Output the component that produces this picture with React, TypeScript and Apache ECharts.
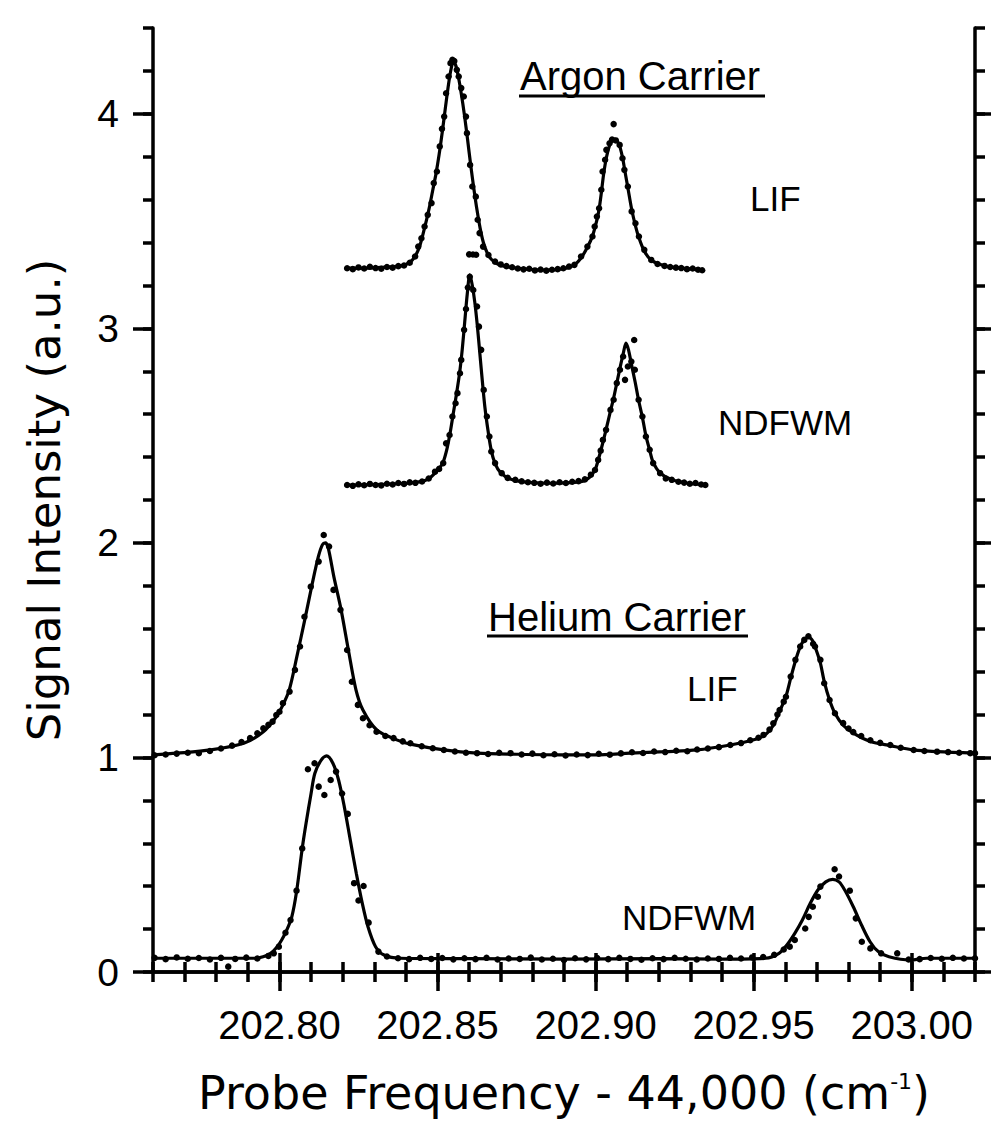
import React, { useEffect, useRef } from "react";
import * as echarts from "echarts";

// ---- axis ticks ----
const xMajorTicks = [202.8, 202.85, 202.9, 202.95, 203.0];
const yMajorTicks = [0, 1, 2, 3, 4];
const X_MIN = 202.76;
const X_MAX = 203.02;
const Y_MIN = 0;
const Y_MAX = 4.4;

// ---- Argon carrier, LIF ----
const argonLifFit = [
  [202.8214, 3.281], [202.826, 3.281], [202.83, 3.282], [202.834, 3.285], [202.837, 3.289], [202.84, 3.298],
  [202.842, 3.318], [202.8435, 3.352], [202.8445, 3.39], [202.8455, 3.445], [202.8465, 3.505], [202.8475, 3.57],
  [202.8485, 3.645], [202.8495, 3.72], [202.8505, 3.81], [202.8515, 3.915], [202.8525, 4.03], [202.8535, 4.14],
  [202.8543, 4.21], [202.855, 4.242], [202.8557, 4.228], [202.8565, 4.18], [202.8575, 4.095], [202.8585, 3.995],
  [202.8595, 3.88], [202.8605, 3.76], [202.8615, 3.65], [202.8625, 3.55], [202.8635, 3.465], [202.8645, 3.4],
  [202.8657, 3.352], [202.867, 3.322], [202.869, 3.3], [202.872, 3.287], [202.878, 3.276], [202.884, 3.272],
  [202.89, 3.278], [202.8933, 3.296], [202.8954, 3.328], [202.8974, 3.378], [202.899, 3.43], [202.9004, 3.505],
  [202.9011, 3.555], [202.9018, 3.63], [202.9025, 3.715], [202.9034, 3.795], [202.9044, 3.852], [202.9053, 3.876],
  [202.9061, 3.882], [202.907, 3.87], [202.9078, 3.84], [202.9086, 3.79], [202.9093, 3.73], [202.9102, 3.655],
  [202.9114, 3.555], [202.9126, 3.478], [202.9137, 3.422], [202.9154, 3.36], [202.9176, 3.318], [202.9218, 3.292],
  [202.9271, 3.281], [202.9337, 3.274],
];
const argonLifDots = [
  [202.8214, 3.28], [202.8232, 3.276], [202.825, 3.284], [202.8268, 3.279], [202.8286, 3.287], [202.8304, 3.281],
  [202.8322, 3.278], [202.834, 3.286], [202.8358, 3.283], [202.8376, 3.29], [202.8394, 3.293], [202.8412, 3.306],
  [202.8429, 3.335], [202.8439, 3.381], [202.8449, 3.42], [202.8459, 3.475], [202.8469, 3.529], [202.8481, 3.584],
  [202.8488, 3.677], [202.8498, 3.731], [202.8507, 3.848], [202.8514, 3.93], [202.8521, 3.987], [202.8527, 4.096],
  [202.8535, 4.174], [202.8541, 4.236], [202.8547, 4.252], [202.8553, 4.246], [202.8561, 4.205], [202.8567, 4.174],
  [202.8575, 4.12], [202.8583, 4.081], [202.859, 3.987], [202.8593, 3.91], [202.8603, 3.762], [202.861, 3.661],
  [202.8621, 3.614], [202.8627, 3.506], [202.8633, 3.444], [202.8644, 3.381], [202.8661, 3.342], [202.8682, 3.311],
  [202.87, 3.298], [202.8718, 3.29], [202.8736, 3.285], [202.8754, 3.279], [202.8772, 3.275], [202.879, 3.278],
  [202.8808, 3.27], [202.8826, 3.274], [202.8844, 3.269], [202.8862, 3.273], [202.888, 3.276], [202.8898, 3.28],
  [202.8916, 3.288], [202.8933, 3.296], [202.8954, 3.335], [202.8974, 3.381], [202.899, 3.428], [202.8997, 3.475],
  [202.9004, 3.521], [202.9011, 3.56], [202.9018, 3.646], [202.9022, 3.731], [202.903, 3.786], [202.9034, 3.832],
  [202.9044, 3.863], [202.9052, 3.88], [202.9057, 3.952], [202.9064, 3.876], [202.9076, 3.855], [202.9085, 3.793],
  [202.9091, 3.739], [202.9102, 3.661], [202.9114, 3.545], [202.9126, 3.49], [202.9137, 3.428], [202.9154, 3.366],
  [202.9176, 3.319], [202.9196, 3.3], [202.9218, 3.291], [202.9236, 3.286], [202.9254, 3.283], [202.9271, 3.281],
  [202.9289, 3.276], [202.9307, 3.279], [202.9324, 3.273], [202.9337, 3.271],
  [202.86, 3.345], [202.8612, 3.344], [202.8622, 3.343],
];

// ---- Argon carrier, NDFWM ----
const argonNdfwmFit = [
  [202.8214, 2.27], [202.83, 2.272], [202.84, 2.278], [202.8451, 2.287], [202.8475, 2.302], [202.8492, 2.325],
  [202.8507, 2.35], [202.8518, 2.378], [202.853, 2.44], [202.854, 2.515], [202.855, 2.605], [202.856, 2.695],
  [202.857, 2.795], [202.8578, 2.9], [202.8586, 3.03], [202.8594, 3.16], [202.8602, 3.249], [202.861, 3.2],
  [202.8618, 3.12], [202.8626, 3.01], [202.8634, 2.88], [202.8642, 2.75], [202.865, 2.63], [202.866, 2.52],
  [202.867, 2.43], [202.8682, 2.37], [202.87, 2.326], [202.873, 2.298], [202.878, 2.283], [202.885, 2.278],
  [202.892, 2.281], [202.896, 2.288], [202.898, 2.305], [202.8998, 2.34], [202.9008, 2.385], [202.9023, 2.468],
  [202.9033, 2.528], [202.9047, 2.615], [202.9057, 2.675], [202.9067, 2.745], [202.9077, 2.815], [202.9087, 2.88],
  [202.9096, 2.931], [202.9104, 2.9], [202.9113, 2.835], [202.9125, 2.75], [202.9136, 2.665], [202.9148, 2.585],
  [202.9159, 2.5], [202.9171, 2.432], [202.9182, 2.375], [202.9204, 2.326], [202.9241, 2.294], [202.9294, 2.278],
  [202.9347, 2.27],
];
const argonNdfwmDots = [
  [202.8214, 2.27], [202.8232, 2.266], [202.825, 2.273], [202.8268, 2.269], [202.8286, 2.275], [202.8304, 2.27],
  [202.8322, 2.268], [202.834, 2.276], [202.8358, 2.272], [202.8376, 2.279], [202.8394, 2.275], [202.8412, 2.282],
  [202.843, 2.28], [202.8451, 2.286], [202.8472, 2.3], [202.8492, 2.332], [202.8505, 2.345], [202.8518, 2.372],
  [202.8527, 2.464], [202.8538, 2.503], [202.8547, 2.589], [202.8557, 2.651], [202.8563, 2.698], [202.8571, 2.791],
  [202.8575, 2.853], [202.8584, 2.993], [202.859, 3.09], [202.8596, 3.19], [202.8602, 3.24], [202.8613, 3.179],
  [202.8625, 3.102], [202.8631, 3.008], [202.8638, 2.9], [202.8646, 2.713], [202.8656, 2.589], [202.8664, 2.496],
  [202.867, 2.426], [202.8682, 2.372], [202.8703, 2.325], [202.8722, 2.303], [202.8746, 2.294], [202.8766, 2.287],
  [202.8786, 2.283], [202.8806, 2.28], [202.8826, 2.276], [202.8846, 2.281], [202.8866, 2.277], [202.8886, 2.283],
  [202.8906, 2.279], [202.8926, 2.285], [202.8946, 2.288], [202.8966, 2.296], [202.8985, 2.318], [202.8998, 2.34],
  [202.9008, 2.387], [202.9016, 2.43], [202.9023, 2.48], [202.9033, 2.527], [202.9047, 2.62], [202.9057, 2.667],
  [202.9067, 2.745], [202.9077, 2.807], [202.9087, 2.869], [202.9093, 2.76], [202.9102, 2.822], [202.9113, 2.845],
  [202.9122, 2.946], [202.9124, 2.807], [202.9136, 2.667], [202.9148, 2.589], [202.9159, 2.496], [202.9171, 2.434],
  [202.9182, 2.372], [202.9204, 2.325], [202.9222, 2.3], [202.9241, 2.294], [202.9262, 2.285], [202.928, 2.281],
  [202.9298, 2.276], [202.9316, 2.279], [202.9334, 2.272], [202.9347, 2.27],
];

// ---- Helium carrier, LIF ----
const heliumLifFit = [
  [202.76, 1.012], [202.7676, 1.02], [202.7782, 1.035], [202.7887, 1.066], [202.7949, 1.12], [202.799, 1.19],
  [202.8011, 1.245], [202.8031, 1.315], [202.8055, 1.47], [202.808, 1.641], [202.8104, 1.812], [202.8123, 1.936],
  [202.8136, 1.992], [202.8145, 2.0], [202.8154, 1.978], [202.8172, 1.843], [202.8195, 1.688], [202.8218, 1.501],
  [202.8242, 1.315], [202.8264, 1.221], [202.8308, 1.128], [202.8371, 1.082], [202.8414, 1.062], [202.852, 1.035],
  [202.8625, 1.02], [202.875, 1.015], [202.8889, 1.012], [202.9, 1.012], [202.911, 1.02], [202.922, 1.027],
  [202.9321, 1.035], [202.9426, 1.058], [202.9489, 1.078], [202.9531, 1.1], [202.9562, 1.15], [202.9582, 1.215],
  [202.9602, 1.285], [202.9617, 1.37], [202.9632, 1.45], [202.9647, 1.515], [202.966, 1.548], [202.9673, 1.56],
  [202.9686, 1.545], [202.9698, 1.5], [202.9711, 1.44], [202.9723, 1.355], [202.974, 1.268], [202.9757, 1.206],
  [202.9783, 1.15], [202.9815, 1.113], [202.9869, 1.074], [202.9932, 1.055], [203.0006, 1.035], [203.008, 1.027],
  [203.02, 1.02],
];
const heliumLifDots = [
  [202.7605, 1.01], [202.764, 1.014], [202.7675, 1.018], [202.771, 1.022], [202.7745, 1.02], [202.778, 1.03],
  [202.7815, 1.042], [202.785, 1.055], [202.788, 1.072], [202.7907, 1.09], [202.793, 1.113], [202.7949, 1.136],
  [202.7965, 1.152], [202.7978, 1.167], [202.799, 1.198], [202.8, 1.213], [202.8011, 1.253], [202.8032, 1.307],
  [202.8049, 1.408], [202.8065, 1.517], [202.8079, 1.656], [202.8099, 1.796], [202.8124, 1.913], [202.814, 2.037],
  [202.8157, 1.983], [202.8171, 1.781], [202.8193, 1.688], [202.8214, 1.501], [202.8229, 1.353], [202.8248, 1.245],
  [202.8264, 1.183], [202.8285, 1.15], [202.8307, 1.12], [202.8335, 1.1], [202.8361, 1.09], [202.839, 1.075],
  [202.8414, 1.066], [202.845, 1.052], [202.8485, 1.043], [202.852, 1.035], [202.8555, 1.028], [202.859, 1.022],
  [202.8625, 1.02], [202.866, 1.016], [202.8695, 1.022], [202.8731, 1.02], [202.8766, 1.014], [202.88, 1.018],
  [202.8835, 1.01], [202.887, 1.015], [202.8905, 1.009], [202.894, 1.014], [202.8975, 1.011], [202.901, 1.017],
  [202.9045, 1.013], [202.908, 1.019], [202.9115, 1.024], [202.915, 1.021], [202.9185, 1.028], [202.922, 1.025],
  [202.9255, 1.031], [202.929, 1.029], [202.9321, 1.037], [202.9355, 1.042], [202.939, 1.048], [202.9426, 1.058],
  [202.946, 1.067], [202.9489, 1.08], [202.9515, 1.092], [202.9531, 1.105], [202.955, 1.13], [202.9562, 1.159],
  [202.9575, 1.2], [202.9582, 1.221], [202.9595, 1.26], [202.9602, 1.283], [202.9617, 1.377], [202.9632, 1.455],
  [202.9647, 1.517], [202.966, 1.548], [202.9673, 1.565], [202.9688, 1.53], [202.9694, 1.517], [202.9711, 1.455],
  [202.9723, 1.346], [202.974, 1.268], [202.9757, 1.206], [202.9783, 1.16], [202.98, 1.135], [202.9815, 1.118],
  [202.984, 1.1], [202.9869, 1.08], [202.99, 1.068], [202.9932, 1.058], [202.9965, 1.045], [203.0006, 1.035],
  [203.004, 1.03], [203.008, 1.027], [203.0115, 1.025], [203.015, 1.022], [203.0185, 1.02], [203.02, 1.02],
];

// ---- Helium carrier, NDFWM ----
const heliumNdfwmFit = [
  [202.76, 0.064], [202.7753, 0.064], [202.7923, 0.064], [202.7948, 0.071], [202.7972, 0.087], [202.7993, 0.118],
  [202.8007, 0.149], [202.8023, 0.195], [202.8039, 0.257], [202.8054, 0.374], [202.8072, 0.576], [202.8084, 0.692],
  [202.81, 0.832], [202.8112, 0.926], [202.8132, 0.988], [202.8149, 1.007], [202.8169, 0.973], [202.8187, 0.895],
  [202.8205, 0.771], [202.8224, 0.615], [202.8243, 0.46], [202.8262, 0.32], [202.828, 0.211], [202.8304, 0.118],
  [202.8331, 0.079], [202.8382, 0.064], [202.86, 0.062], [202.89, 0.06], [202.92, 0.062], [202.94, 0.06],
  [202.9537, 0.064], [202.958, 0.087], [202.9605, 0.126], [202.963, 0.18], [202.9654, 0.242], [202.9679, 0.32],
  [202.9703, 0.382], [202.9728, 0.42], [202.975, 0.432], [202.977, 0.42], [202.9788, 0.382], [202.9815, 0.304],
  [202.9841, 0.219], [202.9868, 0.141], [202.9894, 0.095], [202.9928, 0.071], [202.9996, 0.056], [203.0047, 0.064],
  [203.02, 0.064],
];
const heliumNdfwmDots = [
  [202.7605, 0.066], [202.764, 0.06], [202.7675, 0.068], [202.771, 0.062], [202.7745, 0.065], [202.778, 0.058],
  [202.7815, 0.066], [202.7838, 0.025], [202.786, 0.061], [202.7895, 0.067], [202.793, 0.063], [202.7965, 0.075],
  [202.7982, 0.087], [202.7998, 0.118], [202.8019, 0.183], [202.8035, 0.242], [202.8054, 0.379], [202.8072, 0.576],
  [202.809, 0.945], [202.8111, 0.973], [202.8124, 0.864], [202.8142, 0.825], [202.8162, 0.895], [202.8179, 0.934],
  [202.8198, 0.832], [202.8216, 0.737], [202.8236, 0.414], [202.825, 0.333], [202.8266, 0.401], [202.8282, 0.23],
  [202.8313, 0.095], [202.834, 0.072], [202.8375, 0.064], [202.841, 0.06], [202.8445, 0.066], [202.848, 0.061],
  [202.8515, 0.065], [202.855, 0.059], [202.8585, 0.064], [202.862, 0.06], [202.8655, 0.066], [202.869, 0.058],
  [202.8725, 0.063], [202.876, 0.061], [202.8795, 0.067], [202.883, 0.058], [202.8865, 0.062], [202.89, 0.056],
  [202.8935, 0.064], [202.897, 0.059], [202.9005, 0.065], [202.904, 0.06], [202.9075, 0.066], [202.911, 0.061],
  [202.9145, 0.057], [202.918, 0.064], [202.9215, 0.06], [202.925, 0.066], [202.9285, 0.062], [202.932, 0.058],
  [202.9355, 0.063], [202.939, 0.061], [202.9425, 0.066], [202.946, 0.063], [202.9495, 0.068], [202.953, 0.07],
  [202.9565, 0.08], [202.9595, 0.105], [202.9614, 0.118], [202.963, 0.149], [202.9663, 0.203], [202.9674, 0.257],
  [202.9687, 0.304], [202.9703, 0.351], [202.9711, 0.398], [202.9756, 0.479], [202.977, 0.445], [202.9804, 0.379],
  [202.9823, 0.25], [202.9842, 0.141], [202.9869, 0.11], [202.9903, 0.087], [202.9954, 0.087], [202.999, 0.058],
  [203.0025, 0.06], [203.006, 0.065], [203.0095, 0.062], [203.013, 0.066], [203.0165, 0.063], [203.02, 0.064],
];

const INK = "#000";
const TICK_FONT = '"Liberation Sans", Arial, Helvetica, sans-serif';
const TITLE_FONT = '"DejaVu Sans", "Liberation Sans", sans-serif';

export default function App() {
  const ref = useRef<HTMLDivElement>(null);

  useEffect(() => {
    if (!ref.current) return;
    const chart = echarts.init(ref.current, null, { renderer: "svg" });

    const lineStyle = { color: INK, width: 3.5 };
    const noSplit = { show: false };

    const fitSeries = (data: number[][]) => ({
      type: "line",
      data,
      xAxisIndex: 0,
      yAxisIndex: 0,
      showSymbol: false,
      smooth: 0.3,
      lineStyle: { color: INK, width: 3.2 },
      z: 3,
    });
    const dotSeries = (data: number[][]) => ({
      type: "scatter",
      data,
      xAxisIndex: 0,
      yAxisIndex: 0,
      symbol: "circle",
      symbolSize: 6.5,
      itemStyle: { color: INK, opacity: 1 },
      z: 4,
    });

    const textStyle = (text: string, size: number) => ({
      text,
      font: `${size}px ${TICK_FONT}`,
      fill: INK,
      align: "left",
      verticalAlign: "middle",
      textAlign: "left",
      textVerticalAlign: "middle",
    });

    const option: any = {
      animation: false,
      backgroundColor: "#fff",
      grid: { left: 153, right: 16, top: 28, bottom: 150, containLabel: false, outerBoundsMode: "none" },
      xAxis: [
        {
          type: "value", position: "bottom", min: X_MIN, max: X_MAX, interval: 0.01,
          axisLine: { show: true, lineStyle },
          axisTick: { show: true, length: 10, lineStyle },
          axisLabel: { show: false }, splitLine: noSplit,
        },
        {
          type: "value", position: "bottom", min: X_MIN, max: X_MAX,
          axisLine: { show: false },
          axisTick: { show: true, customValues: xMajorTicks, length: 19, lineStyle },
          axisLabel: {
            show: true, customValues: xMajorTicks,
            formatter: (v: number) => v.toFixed(2),
            fontSize: 40, fontFamily: TICK_FONT, color: INK, margin: 33,
          },
          splitLine: noSplit,
          name: "{b|Probe Frequency - 44,000 (cm}{s|-1}{b|)}",
          nameLocation: "middle", nameGap: 98, nameMoveOverlap: false,
          nameTextStyle: {
            color: INK, fontFamily: TITLE_FONT, fontSize: 46,
            rich: {
              b: { color: INK, fontFamily: TITLE_FONT, fontSize: 46 },
              s: { color: INK, fontFamily: TITLE_FONT, fontSize: 22, verticalAlign: "top" },
            },
          },
        },
        {
          type: "value", position: "top", min: X_MIN, max: X_MAX, interval: 0.01,
          axisLine: { show: true, lineStyle },
          axisTick: { show: true, length: 10, lineStyle },
          axisLabel: { show: false }, splitLine: noSplit,
        },
        {
          type: "value", position: "top", min: X_MIN, max: X_MAX,
          axisLine: { show: false },
          axisTick: { show: true, customValues: xMajorTicks, length: 19, lineStyle },
          axisLabel: { show: false }, splitLine: noSplit,
        },
      ],
      yAxis: [
        {
          type: "value", position: "left", min: Y_MIN, max: Y_MAX, interval: 0.2,
          axisLine: { show: true, lineStyle },
          axisTick: { show: true, length: 10, lineStyle },
          axisLabel: { show: false }, splitLine: noSplit,
        },
        {
          type: "value", position: "left", min: Y_MIN, max: Y_MAX,
          axisLine: { show: false },
          axisTick: { show: true, customValues: yMajorTicks, length: 20, lineStyle },
          axisLabel: {
            show: true, customValues: yMajorTicks,
            formatter: (v: number) => String(v),
            fontSize: 39, fontFamily: TICK_FONT, color: INK, margin: 34,
          },
          splitLine: noSplit,
          name: "Signal Intensity (a.u.)",
          nameLocation: "middle", nameGap: 86, nameRotate: 90, nameMoveOverlap: false,
          nameTextStyle: { color: INK, fontFamily: TITLE_FONT, fontSize: 45 },
        },
        {
          type: "value", position: "right", min: Y_MIN, max: Y_MAX, interval: 0.2,
          axisLine: { show: true, lineStyle },
          axisTick: { show: true, length: 10, lineStyle },
          axisLabel: { show: false }, splitLine: noSplit,
        },
        {
          type: "value", position: "right", min: Y_MIN, max: Y_MAX,
          axisLine: { show: false },
          axisTick: { show: true, customValues: yMajorTicks, length: 20, lineStyle },
          axisLabel: { show: false }, splitLine: noSplit,
        },
      ],
      series: [
        fitSeries(argonLifFit), dotSeries(argonLifDots),
        fitSeries(argonNdfwmFit), dotSeries(argonNdfwmDots),
        fitSeries(heliumLifFit), dotSeries(heliumLifDots),
        fitSeries(heliumNdfwmFit), dotSeries(heliumNdfwmDots),
      ],
      graphic: [
        { type: "text", x: 520, y: 76, style: textStyle("Argon Carrier", 40) },
        { type: "line", shape: { x1: 519, y1: 96, x2: 765, y2: 96 }, style: { stroke: INK, lineWidth: 3 } },
        { type: "text", x: 750, y: 198, style: textStyle("LIF", 35) },
        { type: "text", x: 718, y: 422, style: textStyle("NDFWM", 35) },
        { type: "text", x: 488, y: 617, style: textStyle("Helium Carrier", 40) },
        { type: "line", shape: { x1: 487, y1: 636, x2: 748, y2: 636 }, style: { stroke: INK, lineWidth: 3 } },
        { type: "text", x: 687, y: 688, style: textStyle("LIF", 35) },
        { type: "text", x: 622, y: 917, style: textStyle("NDFWM", 35) },
      ],
    };

    chart.setOption(option);
    return () => chart.dispose();
  }, []);

  return (
    <div
      ref={ref}
      style={{ position: "absolute", left: 0, top: 0, width: 991, height: 1122, background: "#fff" }}
    />
  );
}
